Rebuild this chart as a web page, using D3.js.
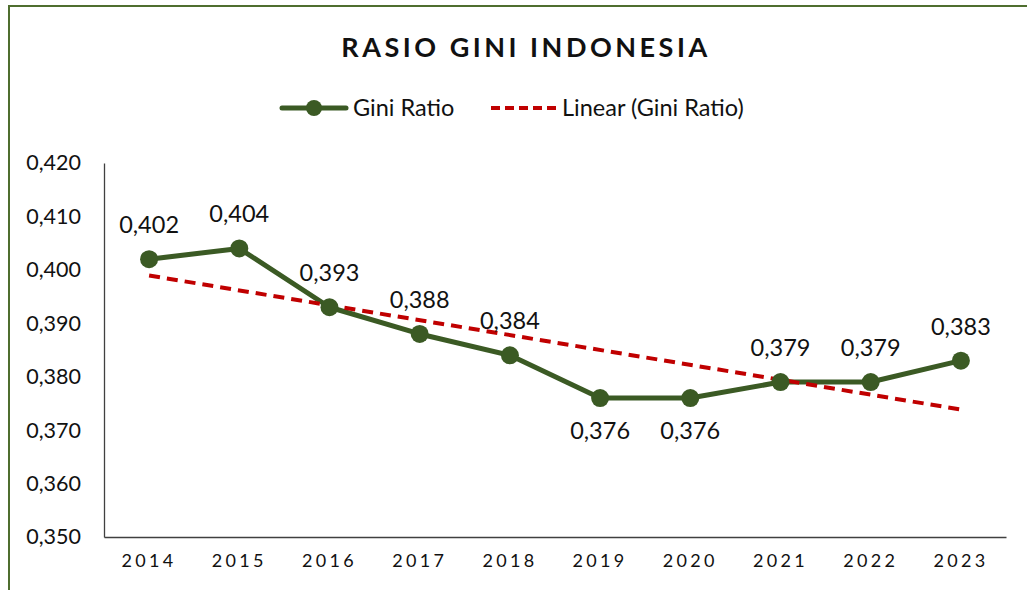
<!DOCTYPE html>
<html>
<head>
<meta charset="utf-8">
<script src="https://cdn.jsdelivr.net/npm/d3@7"></script>
<style>
  html, body { margin: 0; padding: 0; background: #fff; }
  svg { display: block; font-family: Lato, "Open Sans", sans-serif; }
</style>
</head>
<body>
<div id="app"></div>
<script>
const years = ["2014", "2015", "2016", "2017", "2018", "2019", "2020", "2021", "2022", "2023"];
const giniValues = [0.402, 0.404, 0.393, 0.388, 0.384, 0.376, 0.376, 0.379, 0.379, 0.383];
const labelBelow = ["2019", "2020"];
const yTicks = [0.35, 0.36, 0.37, 0.38, 0.39, 0.40, 0.41, 0.42];

const width = 1027;
const height = 590;
const margin = { top: 163, right: 21, bottom: 53, left: 104 };

const data = years.map((y, i) => ({ year: y, value: giniValues[i] }));

const svg = d3.select("#app").append("svg")
  .attr("width", width).attr("height", height);

// chart frame
svg.append("rect")
  .attr("x", 9).attr("y", 6)
  .attr("width", width + 20).attr("height", height + 20)
  .attr("fill", "none").attr("stroke", "#4f6e2f").attr("stroke-width", 2);

const xScale = d3.scaleBand()
  .domain(years)
  .range([margin.left, width - margin.right]);

const yScale = d3.scaleLinear()
  .domain([0.35, 0.42])
  .range([height - margin.bottom, margin.top]);

const fmt = (v) => d3.format(".3f")(v).replace(".", ",");
const cx = (d) => xScale(d.year) + xScale.bandwidth() / 2;

// title
svg.append("text")
  .attr("x", 526).attr("y", 57)
  .attr("text-anchor", "middle")
  .style("font-size", "27px").style("font-weight", "bold")
  .style("letter-spacing", "3.5px").style("fill", "#111")
  .text("RASIO GINI INDONESIA");

// axes
const yAxis = svg.append("g")
  .attr("transform", `translate(${margin.left},0)`)
  .call(d3.axisLeft(yScale).tickValues(yTicks).tickSize(0).tickPadding(23).tickFormat(fmt));
yAxis.select(".domain").attr("stroke", "#404040").attr("stroke-width", 1.3);
yAxis.selectAll("text").style("font-size", "21.5px").style("fill", "#111")
  .style("font-family", "Lato, sans-serif");

const xAxis = svg.append("g")
  .attr("transform", `translate(0,${height - margin.bottom})`)
  .call(d3.axisBottom(xScale).tickSize(0).tickPadding(17));
xAxis.select(".domain").attr("stroke", "#404040").attr("stroke-width", 1.3);
xAxis.selectAll("text").style("font-size", "18px").style("fill", "#111")
  .style("letter-spacing", "3.3px").style("font-family", "Lato, sans-serif");

// linear trend (least squares on the series)
const n = data.length;
const xs = d3.range(1, n + 1);
const mx = d3.mean(xs), my = d3.mean(giniValues);
const slope = d3.sum(xs, (x, i) => (x - mx) * (giniValues[i] - my)) / d3.sum(xs, (x) => (x - mx) ** 2);
const intercept = my - slope * mx;
const trend = data.map((d, i) => ({ year: d.year, value: intercept + slope * (i + 1) }));

const line = d3.line().x(cx).y((d) => yScale(d.value));

svg.append("path")
  .datum(data)
  .attr("d", line)
  .attr("fill", "none")
  .attr("stroke", "#3b5a24")
  .attr("stroke-width", 5)
  .attr("stroke-linejoin", "round");

svg.append("path")
  .datum([trend[0], trend[n - 1]])
  .attr("d", line)
  .attr("fill", "none")
  .attr("stroke", "#c00000")
  .attr("stroke-width", 4)
  .attr("stroke-dasharray", "11,7");

svg.selectAll("circle.dot")
  .data(data)
  .enter()
  .append("circle")
  .attr("class", "dot")
  .attr("cx", cx)
  .attr("cy", (d) => yScale(d.value))
  .attr("r", 9)
  .attr("fill", "#3b5a24");

svg.selectAll("text.lbl")
  .data(data)
  .enter()
  .append("text")
  .attr("class", "lbl")
  .attr("x", cx)
  .attr("y", (d) => yScale(d.value) + (labelBelow.includes(d.year) ? 41 : -26))
  .attr("text-anchor", "middle")
  .style("font-size", "23.5px")
  .style("fill", "#111")
  .text((d) => fmt(d.value));

// legend
const legend = svg.append("g").attr("transform", "translate(0,108)");
legend.append("line")
  .attr("x1", 282).attr("x2", 346).attr("y1", 0).attr("y2", 0)
  .attr("stroke", "#3b5a24").attr("stroke-width", 5).attr("stroke-linecap", "round");
legend.append("circle").attr("cx", 314).attr("cy", 0).attr("r", 8).attr("fill", "#3b5a24");
legend.append("text").attr("x", 353).attr("y", 8)
  .style("font-size", "23.5px").style("fill", "#111").text("Gini Ratio");
legend.append("line")
  .attr("x1", 491).attr("x2", 556).attr("y1", 0).attr("y2", 0)
  .attr("stroke", "#c00000").attr("stroke-width", 4).attr("stroke-dasharray", "9,5");
legend.append("text").attr("x", 562).attr("y", 8)
  .style("font-size", "23.5px").style("fill", "#111").text("Linear (Gini Ratio)");
</script>
</body>
</html>
